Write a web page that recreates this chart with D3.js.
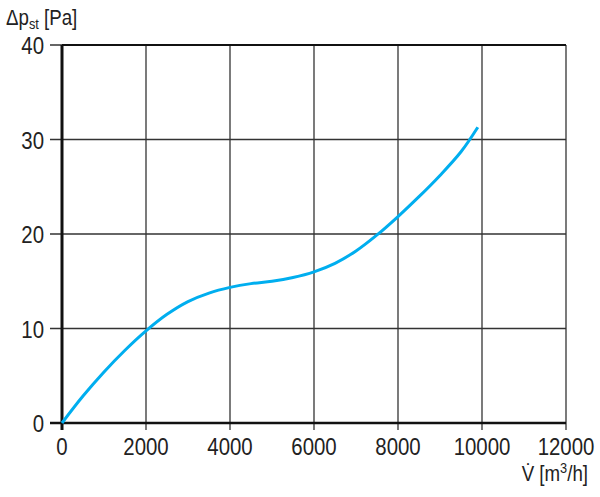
<!DOCTYPE html>
<html lang="en">
<head>
<meta charset="UTF-8">
<title>pressure curve</title>
<script src="https://d3js.org/d3.v7.min.js"></script>
<style>
  body { margin: 0; background: #fff; }
  text { font-family: "Liberation Sans", Arial, sans-serif; fill: #222; }
</style>
</head>
<body>
<script>
// curve: volume flow [m3/h] -> static pressure [Pa]
var flow     = [0, 500, 1000, 1500, 2000, 2500, 3000, 3500, 4000, 4500, 5000, 5500, 6000, 6500, 7000, 7500, 8000, 8500, 9000, 9500, 9900];
var pressure = [0, 2.85, 5.4, 7.7, 9.75, 11.5, 12.85, 13.75, 14.35, 14.75, 15.0, 15.4, 16.0, 16.9, 18.2, 19.9, 21.85, 23.95, 26.2, 28.7, 31.3];
var xTicks = [0, 2000, 4000, 6000, 8000, 10000, 12000];
var yTicks = [0, 10, 20, 30, 40];

var width = 600, height = 497;
var pLeft = 62, pRight = 566, pTop = 45, pBottom = 423;
var squeeze = 0.85; // condensed look, no narrow font installed

var svg = d3.select("body").append("svg")
    .attr("width", width)
    .attr("height", height);

var x = d3.scaleLinear().domain([0, 12000]).range([pLeft, pRight]);
var y = d3.scaleLinear().domain([0, 40]).range([pBottom, pTop]);

// grid
svg.append("g").selectAll("line")
    .data(xTicks.slice(1))
    .enter().append("line")
    .attr("x1", d => x(d)).attr("x2", d => x(d))
    .attr("y1", pTop).attr("y2", pBottom + 7)
    .attr("stroke", "#333").attr("stroke-width", 1.3);
svg.append("g").selectAll("line")
    .data(yTicks.slice(1))
    .enter().append("line")
    .attr("x1", pLeft - 12).attr("x2", pRight)
    .attr("y1", d => y(d)).attr("y2", d => y(d))
    .attr("stroke", "#333").attr("stroke-width", 1.3);

// frame
svg.append("line").attr("x1", pLeft).attr("x2", pRight).attr("y1", pTop).attr("y2", pTop)
    .attr("stroke", "#111").attr("stroke-width", 2);
svg.append("line").attr("x1", pLeft - 12).attr("x2", pRight).attr("y1", pBottom).attr("y2", pBottom)
    .attr("stroke", "#111").attr("stroke-width", 2.5);
svg.append("line").attr("x1", pLeft).attr("x2", pLeft).attr("y1", pTop).attr("y2", pBottom + 7)
    .attr("stroke", "#111").attr("stroke-width", 3);

// tick labels
svg.append("g").selectAll("text")
    .data(xTicks)
    .enter().append("text")
    .attr("transform", d => "translate(" + x(d) + "," + (pBottom + 32) + ") scale(" + squeeze + ",1)")
    .attr("text-anchor", "middle")
    .attr("font-size", 24)
    .text(d => d);
svg.append("g").selectAll("text")
    .data(yTicks)
    .enter().append("text")
    .attr("transform", d => "translate(" + (pLeft - 18) + "," + (y(d) + 9) + ") scale(" + squeeze + ",1)")
    .attr("text-anchor", "end")
    .attr("font-size", 24)
    .text(d => d);

// axis titles
var yt = svg.append("text")
    .attr("transform", "translate(6,25) scale(" + squeeze + ",1)")
    .attr("font-size", 22);
yt.append("tspan").text("\u0394p");
yt.append("tspan").attr("font-size", 15).attr("dy", 4).text("st");
yt.append("tspan").attr("dy", -4).text(" [Pa]");

var xt = svg.append("text")
    .attr("transform", "translate(588,481) scale(" + squeeze + ",1)")
    .attr("text-anchor", "end")
    .attr("font-size", 22);
xt.append("tspan").text("V\u0307 [m");
xt.append("tspan").attr("font-size", 15).attr("dy", -8).text("3");
xt.append("tspan").attr("dy", 8).text("/h]");

// curve
var line = d3.line()
    .x((d, i) => x(flow[i]))
    .y(d => y(d))
    .curve(d3.curveCatmullRom);
svg.append("path")
    .datum(pressure)
    .attr("d", line)
    .attr("fill", "none")
    .attr("stroke", "#00aeef")
    .attr("stroke-width", 3);
</script>
</body>
</html>
